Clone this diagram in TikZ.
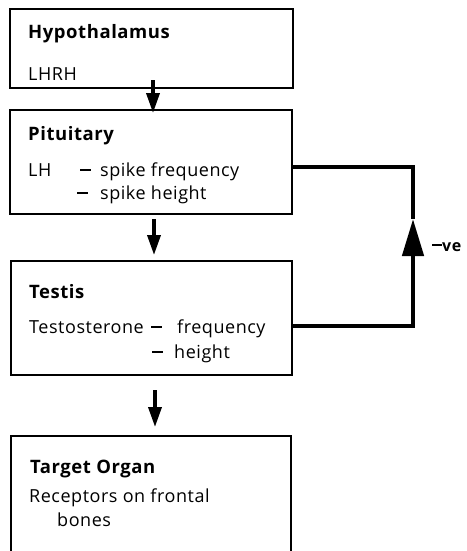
\documentclass[tikz,border=0pt]{standalone}
\usepackage{fontspec}
\setmainfont{Open Sans}[LetterSpace=3]
\usetikzlibrary{arrows.meta}
\newcommand\dbar[1]{\makebox[#1][l]{\rule[5.5pt]{11pt}{1.3pt}}}
\tikzset{
  box/.style={draw=black, line width=1.6pt},
  txt/.style={anchor=base west, inner sep=0pt, font=\fontsize{18}{21}\selectfont},
  head/.style={anchor=base west, inner sep=0pt, font=\fontsize{18.5}{21}\selectfont\bfseries},
  flow/.style={line width=3.5pt, -{Triangle[length=20pt,width=13pt]}},
  fb/.style={line width=4.5pt},
  fbarrow/.style={line width=4.5pt, -{Triangle[length=37pt,width=21pt]}},
}
\begin{document}
\begin{tikzpicture}[x=1pt,y=-1pt]
\useasboundingbox (0,0) rectangle (466,551);
% boxes
\draw[box] (10,9) rectangle (293,88);
\draw[box] (10,110) rectangle (292,214);
\draw[box] (11,261) rectangle (292,375);
\draw[box] (11,551) -- (11,436) -- (291,436) -- (291,551);
% named anchors
\coordinate (h1) at (153,80);
\coordinate (p0) at (153,113);
\coordinate (p1) at (154,219);
\coordinate (t0) at (154,255);
\coordinate (t1) at (155,390);
\coordinate (g0) at (155,427);
\coordinate (pr) at (292,167);
\coordinate (tr) at (292,326);
\coordinate (c1) at (413,167);
\coordinate (c2) at (413,326);
\coordinate (ah) at (413,219);
% flow arrows
\draw[flow] (h1) -- (p0);
\draw[flow] (p1) -- (t0);
\draw[flow] (t1) -- (g0);
% feedback
\draw[fb] (pr) -- (c1) -- (ah);
\draw[fbarrow] (tr) -- (c2) -- (ah);
\node[txt, anchor=base west, font=\fontsize{16}{18}\selectfont\bfseries] (ve) at (432,251) {\makebox[10pt][l]{\rule[5pt]{10pt}{1.6pt}}ve};
% texts
\node[head] (hyp) at (28,39) {Hypothalamus};
\node[txt] (lhrh) at (28,80) {LHRH};
\node[head] (pit) at (28,140) {Pituitary};
\node[txt] (lh) at (28,176) {LH};
\node[txt] (lh1) at (80,176) {\dbar{20pt}spike frequency};
\node[txt] (lh2) at (77,199) {\dbar{23pt}spike height};
\node[head] (tes) at (29,298) {Testis};
\node[txt] (tt) at (29,333) {Testosterone};
\node[txt] (tt1) at (151,333) {\dbar{26pt}frequency};
\node[txt] (tt2) at (152,358) {\dbar{22pt}height};
\node[head] (tgt) at (30,473) {Target Organ};
\node[txt] (rec) at (29,502) {Receptors on frontal};
\node[txt] (bon) at (57,526) {bones};
\end{tikzpicture}
\end{document}
